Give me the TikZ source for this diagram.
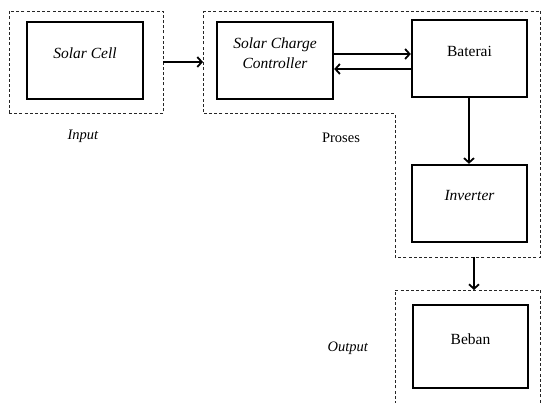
\documentclass[tikz,border=0pt]{standalone}
\usepackage{fontspec}
\setmainfont{Liberation Serif}
\usetikzlibrary{arrows.meta}

\begin{document}
\begin{tikzpicture}[
		x=1pt, y=-1pt,
		font=\rmfamily\fontsize{15.5}{20}\selectfont,
		blok/.style={draw, line width=2.4pt, rectangle, inner sep=0pt},
		txt/.style={yshift=7.5pt, align=center},
		zona/.style={draw, dashed, line width=0.9pt, dash pattern=on 3pt off 2.2pt, black!85},
		panah/.style={line width=1.8pt, -{Straight Barb[length=4.5pt,width=10pt]}},
		judul/.style={font=\rmfamily\fontsize{14.5}{17}\selectfont}
		]
		\useasboundingbox (0,0) rectangle (542,403);
		% daerah putus-putus
		\node[zona, minimum width=154pt, minimum height=102.5pt] (input) at (86,62.25) {};
		\coordinate (p1) at (203,11);
		\coordinate (p2) at (540.5,11);
		\coordinate (p3) at (540.5,257);
		\coordinate (p4) at (395,257);
		\coordinate (p5) at (395,113.5);
		\coordinate (p6) at (203,113.5);
		\draw[zona] (p1) -- (p2) -- (p3) -- (p4) -- (p5) -- (p6) -- cycle;
		\coordinate (o1) at (395,404);
		\coordinate (o2) at (395,290);
		\coordinate (o3) at (540.5,290);
		\coordinate (o4) at (540.5,404);
		\draw[zona] (o1) -- (o2) -- (o3) -- (o4);
		% blok
		\node[blok, minimum width=116pt, minimum height=77pt,
			label={[txt]center:\textit{Solar Cell}}] (cell) at (85,60.5) {};
		\node[blok, minimum width=116pt, minimum height=77pt,
			label={[txt]center:\textit{Solar Charge}\\\textit{Controller}}] (scc) at (275,60.5) {};
		\node[blok, minimum width=115pt, minimum height=77pt,
			label={[txt]center:Baterai}] (bat) at (469.5,58.5) {};
		\node[blok, minimum width=115pt, minimum height=77pt,
			label={[txt]center:\textit{Inverter}}] (inv) at (469.5,203.5) {};
		\node[blok, minimum width=115pt, minimum height=83pt,
			label={[txt]center:Beban}] (beban) at (470.5,346.5) {};
		% keterangan
		\node[judul] (linput) at (83,136) {\textit{Input}};
		\node[judul] (lproses) at (341,138) {Proses};
		\node[judul] (loutput) at (348,348) {\textit{Output}};
		% panah
		\draw[panah] ([yshift=0.25pt]input.east) -- ([yshift=0.25pt]input.east -| p1);
		\draw[panah] ([yshift=6.5pt]scc.east) -- ([yshift=6.5pt]scc.east -| bat.west);
		\draw[panah] ([yshift=-10.5pt]bat.west) -- ([yshift=-10.5pt]bat.west -| scc.east);
		\draw[panah] ([xshift=-0.5pt]bat.south) -- ([xshift=-0.5pt]inv.north);
		\coordinate (keluar) at (474,257);
		\coordinate (masuk) at (474,290);
		\draw[panah] (keluar) -- (masuk);
	\end{tikzpicture}
\end{document}
